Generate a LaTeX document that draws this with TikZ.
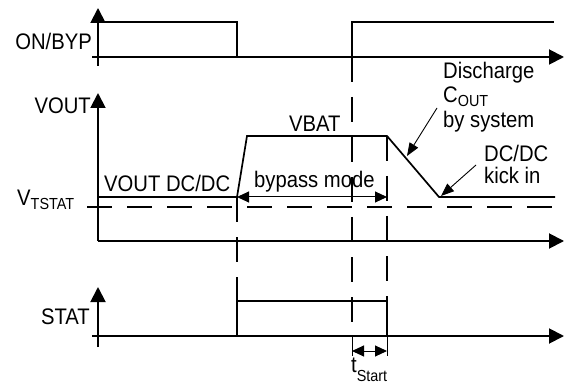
\documentclass[tikz,border=0pt]{standalone}
\usepackage{fontspec}
\setmainfont{Liberation Sans}[FakeStretch=0.9]
\usetikzlibrary{arrows.meta}
\newcommand\lowsub[2][0.15em]{\raisebox{-#1}{\fontsize{16}{16}\selectfont #2}}
\begin{document}
\begin{tikzpicture}[x=1pt,y=-1pt,
  axis/.style={line width=1.9pt},
  axarrow/.style={axis,-{Triangle[length=15pt,width=15pt]}},
  sig/.style={line width=1.7pt},
  dashline/.style={line width=1.1pt, dash pattern=on 25pt off 15pt},
  lbl/.style={font=\fontsize{22.5}{25}\selectfont, inner sep=0pt},
  dimarrow/.style={line width=1pt,{Triangle[length=12pt,width=11pt]}-{Triangle[length=12pt,width=11pt]}},
  callout/.style={line width=0.9pt,-{Triangle[length=13pt,width=10pt]}}]
\useasboundingbox (0,0) rectangle (564,387);
% ---------- coordinates
% top axis
\coordinate (t0) at (98,66);  \coordinate (t1) at (98,8);
\coordinate (h0) at (92,57);  \coordinate (h1) at (564,57);
% vout axis
\coordinate (v0) at (98,241); \coordinate (v1) at (98,93);
\coordinate (g0) at (98,241); \coordinate (g1) at (564,241);
% stat axis
\coordinate (s0) at (98,347); \coordinate (s1) at (98,287);
\coordinate (k0) at (92,336); \coordinate (k1) at (564,336);
% ON/BYP signal
\coordinate (p1) at (98,22); \coordinate (p2) at (237,22); \coordinate (p3) at (237,57);
\coordinate (p4) at (352,57); \coordinate (p5) at (352,22); \coordinate (p6) at (554,22);
% VOUT trace
\coordinate (q1) at (98,197); \coordinate (q2) at (237,197); \coordinate (q3) at (247,136);
\coordinate (q4) at (387,136); \coordinate (q5) at (439,197); \coordinate (q6) at (555,197);
% threshold
\coordinate (d0) at (87,207); \coordinate (d1) at (554,207);
% STAT signal
\coordinate (r1) at (237,336); \coordinate (r2) at (237,301); \coordinate (r3) at (387,301); \coordinate (r4) at (387,336);
% dashed verticals
\coordinate (x1a) at (237,197); \coordinate (x1b) at (237,301);
\coordinate (x2a) at (352,57);  \coordinate (x2b) at (352,336);
\coordinate (x3a) at (387,136); \coordinate (x3b) at (387,336);
% tstart bracket
\coordinate (b1) at (352,336); \coordinate (b2) at (352,356);
\coordinate (b3) at (387,336); \coordinate (b4) at (387,356);
\coordinate (b5) at (352,351); \coordinate (b6) at (387,351);
% callouts
\coordinate (c1) at (437,108); \coordinate (c2) at (407,156);
\coordinate (c3) at (476,165); \coordinate (c4) at (441,196);
% ---------- axes
\draw[axarrow] (t0) -- (t1);
\draw[axarrow] (h0) -- (h1);
\draw[axarrow] (v0) -- (v1);
\draw[axarrow] (g0) -- (g1);
\draw[axarrow] (s0) -- (s1);
\draw[axarrow] (k0) -- (k1);
% ---------- signals
\draw[sig] (p1) -- (p2) -- (p3);
\draw[sig] (p4) -- (p5) -- (p6);
\draw[sig] (q1) -- (q2) -- (q3) -- (q4) -- (q5) -- (q6);
\draw[sig] (r1) -- (r2) -- (r3) -- (r4);
% ---------- dashed lines
\draw[dashline] (d0) -- (d1);
\draw[dashline] (x1a) -- (x1b);
\draw[dashline] (x2a) -- (x2b);
\draw[dashline] (x3a) -- (x3b);
% ---------- dimensions
\draw[dimarrow] (q2) -- (q4 |- q2);
\draw[line width=1pt] (b1) -- (b2);
\draw[line width=1pt] (b3) -- (b4);
\draw[dimarrow] (b5) -- (b6);
% ---------- callouts
\draw[callout] (c1) -- (c2);
\draw[callout] (c3) -- (c4);
% ---------- labels
\node[lbl, anchor=base east] (lon) at (92,50) {ON/BYP};
\node[lbl, anchor=base east] (lvout) at (91,114) {VOUT};
\node[lbl, anchor=base west] (lvt) at (17,206) {V\lowsub{TSTAT}};
\node[lbl, anchor=base east] (lstat) at (90,324) {STAT};
\node[lbl, anchor=base west] (ldc) at (104,192) {VOUT DC/DC};
\node[lbl, anchor=base west] (lbyp) at (254,188) {bypass mode};
\node[lbl, anchor=base west] (lvbat) at (289,132) {VBAT};
\node[lbl, anchor=base west] (ldis1) at (443,79) {Discharge};
\node[lbl, anchor=base west] (ldis2) at (443,103) {C\lowsub{OUT}};
\node[lbl, anchor=base west] (ldis3) at (443,128) {by system};
\node[lbl, anchor=base west] (lk1) at (484,162) {DC/DC};
\node[lbl, anchor=base west] (lk2) at (484,184) {kick in};
\node[lbl, anchor=base west] (lts) at (351,372) {t\lowsub[0.4em]{Start}};
\end{tikzpicture}
\end{document}
